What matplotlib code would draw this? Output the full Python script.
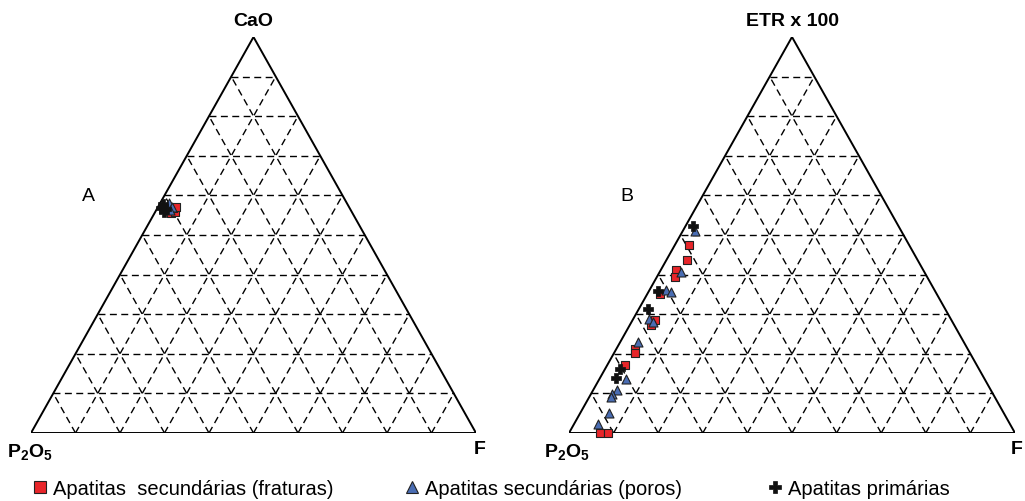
import matplotlib
matplotlib.use("Agg")
import matplotlib.pyplot as plt
from matplotlib.lines import Line2D
import numpy as np

plt.rcParams['font.family'] = ['Liberation Sans', 'DejaVu Sans']
plt.rcParams['mathtext.fontset'] = 'custom'
plt.rcParams['mathtext.rm'] = 'Liberation Sans'
plt.rcParams['mathtext.bf'] = 'Liberation Sans:bold'

# ---- Diagram A: CaO - P2O5 - F (wt.%) ----
a_frat_cao = [55.6, 55.8, 56.8, 57.1]
a_frat_p2o5 = [40.7, 39.7, 39.7, 38.9]
a_frat_f = [3.7, 4.5, 3.5, 4.0]

a_poro_cao = [58.1, 57.1, 56.3]
a_poro_p2o5 = [39.9, 39.7, 40.6]
a_poro_f = [2.0, 3.2, 3.1]

a_prim_cao = [56.8, 55.8, 57.8, 56.6]
a_prim_p2o5 = [42.4, 42.2, 41.4, 41.4]
a_prim_f = [0.8, 2.0, 0.8, 2.0]

# ---- Diagram B: ETR x 100 - P2O5 - F ----
b_frat_etr = [47.5, 43.7, 41.2, 39.4, 35.1, 28.5, 27.3, 21.2, 20.2, 17.2, 0.0, 0.0]
b_frat_p2o5 = [49.3, 51.7, 55.4, 56.5, 62.0, 66.5, 68.0, 74.6, 75.1, 78.8, 93.0, 91.3]
b_frat_f = [3.2, 4.6, 3.4, 4.1, 2.9, 5.0, 4.8, 4.2, 4.7, 4.0, 7.0, 8.7]

b_poro_etr = [51.0, 40.7, 36.1, 35.6, 28.8, 28.0, 23.0, 13.6, 10.9, 9.8, 9.1, 5.1, 2.3]
b_poro_p2o5 = [46.3, 54.5, 60.2, 59.3, 67.7, 67.2, 73.0, 80.4, 83.8, 85.5, 86.0, 88.5, 92.3]
b_poro_f = [2.7, 4.8, 3.7, 5.1, 3.5, 4.8, 4.0, 6.0, 5.3, 4.7, 4.9, 6.4, 5.4]

b_prim_etr = [52.3, 35.9, 31.3, 16.2, 13.9]
b_prim_p2o5 = [46.1, 62.1, 66.6, 80.5, 82.5]
b_prim_f = [1.7, 2.0, 2.1, 3.3, 3.6]

legend_labels = ["Apatitas  secundárias (fraturas)",
                 "Apatitas secundárias (poros)",
                 "Apatitas primárias"]

RED = "#e8262a"
BLUE = "#4a6db3"

styles = [
    dict(marker="s", s=40, color=RED, edgecolors="#222222", linewidths=0.8),
    dict(marker="^", s=42, color=BLUE, edgecolors="#222222", linewidths=0.8),
    dict(marker="P", s=55, color="#111111", edgecolors="#111111", linewidths=0.5),
]


def to_xy(top, left, right):
    top = np.asarray(top, float)
    left = np.asarray(left, float)
    right = np.asarray(right, float)
    tot = top + left + right
    a = top / tot
    c = right / tot
    return c + a / 2.0, a


def draw_frame(ax):
    ax.set_xlim(0, 1)
    ax.set_ylim(0, 1)
    ax.axis("off")
    dash = dict(color="black", lw=1.0, ls=(0, (5.0, 3.2)), zorder=1)
    for i in range(1, 10):
        t = i / 10.0
        # constant top component
        x0, y0 = to_xy(t, 1 - t, 0)
        x1, y1 = to_xy(t, 0, 1 - t)
        ax.plot([x0, x1], [y0, y1], **dash)
        # constant right component
        x0, y0 = to_xy(0, 1 - t, t)
        x1, y1 = to_xy(1 - t, 0, t)
        ax.plot([x0, x1], [y0, y1], **dash)
        # constant left component
        x0, y0 = to_xy(0, t, 1 - t)
        x1, y1 = to_xy(1 - t, t, 0)
        ax.plot([x0, x1], [y0, y1], **dash)
    ax.plot([0, 1, 0.5, 0], [0, 0, 1, 0], color="black", lw=1.4,
            solid_joinstyle="miter", zorder=2)


W, H = 1025, 502
fig = plt.figure(figsize=(W / 100, H / 100), dpi=100)

axA = fig.add_axes([31 / W, (H - 434) / H, 445 / W, 396 / H])
axB = fig.add_axes([569 / W, (H - 434) / H, 446 / W, 396 / H])

for ax in (axA, axB):
    draw_frame(ax)

groupsA = [(a_frat_cao, a_frat_p2o5, a_frat_f),
           (a_poro_cao, a_poro_p2o5, a_poro_f),
           (a_prim_cao, a_prim_p2o5, a_prim_f)]
groupsB = [(b_frat_etr, b_frat_p2o5, b_frat_f),
           (b_poro_etr, b_poro_p2o5, b_poro_f),
           (b_prim_etr, b_prim_p2o5, b_prim_f)]

order = [2, 1, 0]
for ax, groups in ((axA, groupsA), (axB, groupsB)):
    for k in order:
        x, y = to_xy(*groups[k])
        ax.scatter(x, y, zorder=5 + k, clip_on=False, **styles[k])

# vertex labels
lab_kw = dict(fontsize=14, fontweight="bold", ha="center", va="center")
fig.text(253 / W, 1 - 22 / H, "CaO", **lab_kw)
fig.text(792 / W, 1 - 22 / H, "ETR x 100", **lab_kw)
fig.text(30 / W, 1 - 452 / H, r"$\mathbf{P_{2}O_{5}}$", **lab_kw)
fig.text(567 / W, 1 - 452 / H, r"$\mathbf{P_{2}O_{5}}$", **lab_kw)
fig.text(480 / W, 1 - 450 / H, "F", **lab_kw)
fig.text(1017 / W, 1 - 450 / H, "F", **lab_kw)

fig.text(88 / W, 1 - 197 / H, "A", fontsize=14, ha="center", va="center")
fig.text(627 / W, 1 - 197 / H, "B", fontsize=14, ha="center", va="center")

# legend row
handles = [Line2D([], [], ls="none", marker=st["marker"],
                  markerfacecolor=st["color"], markeredgecolor=st["edgecolors"],
                  markeredgewidth=st["linewidths"], markersize=8)
           for st in styles]
anchors = [33, 405, 768]
for h, lab, xa in zip(handles, legend_labels, anchors):
    fig.legend([h], [lab], loc="center left", bbox_to_anchor=(xa / W, 1 - 490 / H),
               frameon=False, fontsize=14.5, handlelength=0.7, handletextpad=0.3,
               borderpad=0, borderaxespad=0)

fig.savefig("out.png", dpi=100, facecolor="white")
